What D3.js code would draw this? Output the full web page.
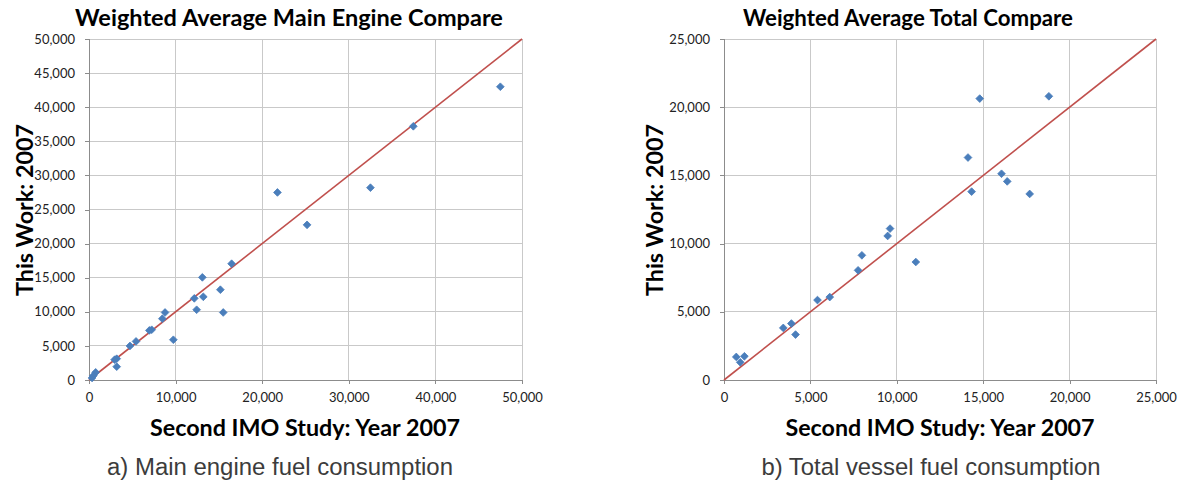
<!DOCTYPE html>
<html><head><meta charset="utf-8">
<script src="https://cdn.jsdelivr.net/npm/d3@7"></script>
<style>body{margin:0;background:#fff}svg{display:block}</style>
</head><body>
<svg id="c" width="1183" height="483"></svg>
<script>
// Panel a) Main engine (Second IMO study x, This work y)
const mainX = [21760,32500,37450,47500,25180,16470,13090,15170,12160,13200,12430,15500,9740,8780,8470,7240,6970,5430,4730,3200,2960,3200,770,500,350];
const mainY = [27500,28200,37200,43000,22750,17050,15050,13240,11970,12200,10300,9900,5900,9900,8990,7370,7270,5660,4990,3120,2980,1950,1120,630,300];
// Panel b) Total vessel
const totX = [14800,18800,14120,16060,16390,14330,17690,9610,9470,11100,7980,7760,6120,5410,3900,3430,4140,710,940,1180];
const totY = [20630,20800,16310,15120,14560,13810,13640,11100,10560,8650,9140,8040,6080,5860,4140,3820,3330,1690,1300,1740];
const mainTicks = [0,10000,20000,30000,40000,50000];
const mainYTicks = [0,5000,10000,15000,20000,25000,30000,35000,40000,45000,50000];
const totTicks = [0,5000,10000,15000,20000,25000];
const titles = ["Weighted Average Main Engine Compare","Weighted Average Total Compare"];
const yTitle = "This Work: 2007";
const xTitle = "Second IMO Study: Year 2007";
const captions = ["a) Main engine fuel consumption","b) Total vessel fuel consumption"];

const svg = d3.select("#c");
const fmt = d3.format(",");
const FONT = "Lato, 'Open Sans', sans-serif";

function fitText(sel, w){
  let fs = parseFloat(sel.attr("font-size"));
  for(let i=0;i<4;i++){
    const l = sel.node().getComputedTextLength();
    if(!l) break;
    fs = fs * w / l;
    sel.attr("font-size", fs);
  }
}

const panels = [
  {x0:89,x1:522,y0:39,y1:380,max:50000,xt:mainTicks,yt:mainYTicks,xs:mainX,ys:mainY,
   title:titles[0],tcx:289,tw:428,ytx:26,ytw:172,xtcx:305,xtw:310,cap:captions[0],ccx:280,cw:346},
  {x0:724,x1:1156,y0:39,y1:380,max:25000,xt:totTicks,yt:totTicks,xs:totX,ys:totY,
   title:titles[1],tcx:908,tw:330,ytx:656,ytw:172,xtcx:940,xtw:309,cap:captions[1],ccx:931,cw:339}
];

panels.forEach(p=>{
  const x = d3.scaleLinear().domain([0,p.max]).range([p.x0,p.x1]);
  const y = d3.scaleLinear().domain([0,p.max]).range([p.y1,p.y0]);
  const g = svg.append("g");
  // gridlines
  g.append("g").selectAll("line").data(p.yt.slice(1)).join("line")
    .attr("x1",p.x0).attr("x2",p.x1).attr("y1",d=>y(d)).attr("y2",d=>y(d))
    .attr("stroke","#c9c9c9").attr("stroke-width",1).attr("shape-rendering","crispEdges");
  g.append("g").selectAll("line").data(p.xt.slice(1)).join("line")
    .attr("y1",p.y0).attr("y2",p.y1).attr("x1",d=>x(d)).attr("x2",d=>x(d))
    .attr("stroke","#c9c9c9").attr("stroke-width",1).attr("shape-rendering","crispEdges");
  // axes
  const ya = d3.axisLeft(y).tickValues(p.yt).tickFormat(fmt).tickSize(4).tickPadding(10);
  const xa = d3.axisBottom(x).tickValues(p.xt).tickFormat(fmt).tickSize(4).tickPadding(9);
  const gy = g.append("g").attr("transform",`translate(${p.x0},0)`).call(ya);
  const gx = g.append("g").attr("transform",`translate(0,${p.y1})`).call(xa);
  [gy,gx].forEach(a=>{
    a.select(".domain").attr("stroke","#8c8c8c").attr("shape-rendering","crispEdges");
    a.selectAll(".tick line").attr("stroke","#8c8c8c").attr("shape-rendering","crispEdges");
    a.selectAll("text").attr("font-family",FONT).attr("font-size",13).attr("fill","#222");
  });
  // diagonal
  g.append("line").attr("x1",x(0)).attr("y1",y(0)).attr("x2",x(p.max)).attr("y2",y(p.max))
    .attr("stroke","#c0504d").attr("stroke-width",1.6);
  // points
  const pts = p.xs.map((v,i)=>[v,p.ys[i]]);
  g.append("g").selectAll("path").data(pts).join("path")
    .attr("d",d3.symbol(d3.symbolDiamond2,38))
    .attr("transform",d=>`translate(${x(d[0])},${y(d[1])})`)
    .attr("fill","#4a7ebb").attr("stroke","#4a7ebb").attr("stroke-width",0.8);
  // title
  const t = g.append("text").attr("x",p.tcx).attr("y",26).attr("text-anchor","middle")
    .attr("font-family",FONT).attr("font-weight","bold").attr("font-size",21).attr("fill","#000").text(p.title);
  fitText(t,p.tw);
  const yt = g.append("text").attr("transform",`translate(${p.ytx+7},210) rotate(-90)`).attr("text-anchor","middle")
    .attr("font-family",FONT).attr("font-weight","bold").attr("font-size",21).attr("fill","#000").text(yTitle);
  fitText(yt,p.ytw);
  const xt = g.append("text").attr("x",p.xtcx).attr("y",436).attr("text-anchor","middle")
    .attr("font-family",FONT).attr("font-weight","bold").attr("font-size",21).attr("fill","#000").text(xTitle);
  fitText(xt,p.xtw);
  const c = g.append("text").attr("x",p.ccx).attr("y",475).attr("text-anchor","middle")
    .attr("font-family","'Liberation Sans', Arial, sans-serif").attr("font-size",22).attr("fill","#3c3c3c").text(p.cap);
  fitText(c,p.cw);
});
</script>
</body></html>
